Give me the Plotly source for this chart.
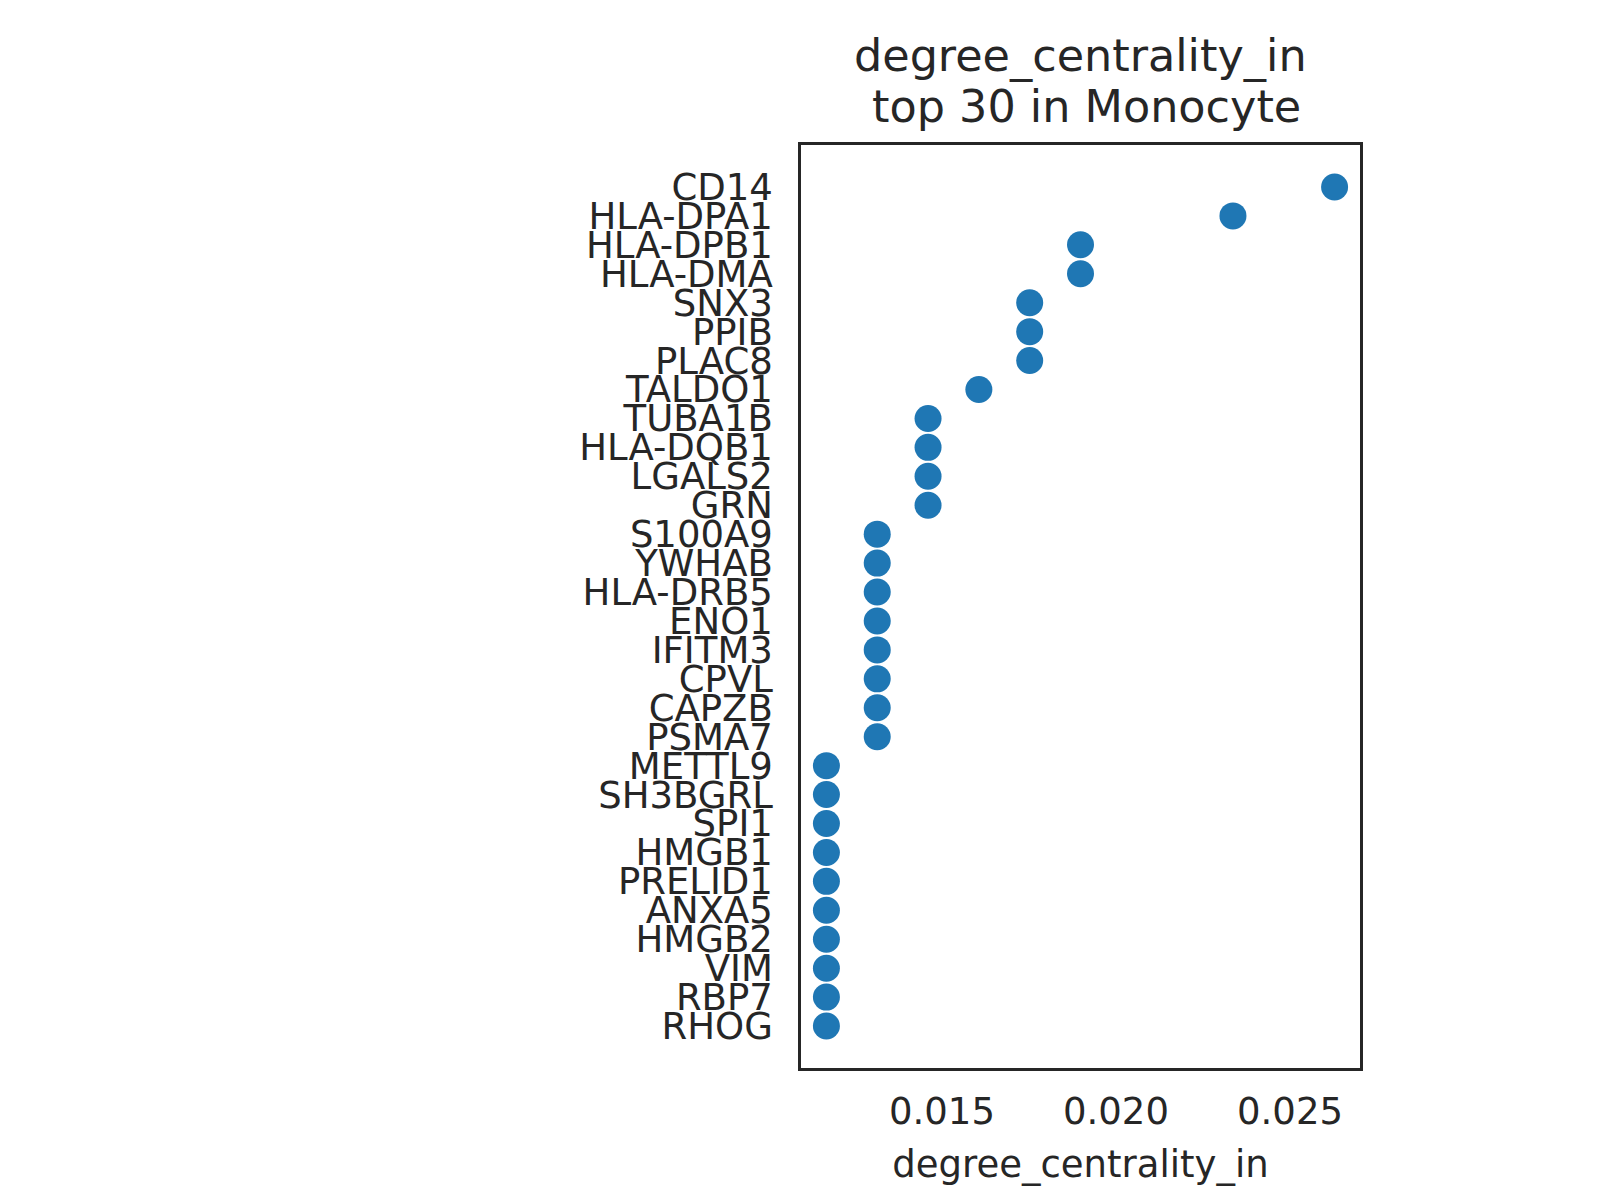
import plotly.graph_objects as go

genes = ["CD14", "HLA-DPA1", "HLA-DPB1", "HLA-DMA", "SNX3", "PPIB", "PLAC8", "TALDO1",
         "TUBA1B", "HLA-DQB1", "LGALS2", "GRN", "S100A9", "YWHAB", "HLA-DRB5", "ENO1",
         "IFITM3", "CPVL", "CAPZB", "PSMA7", "METTL9", "SH3BGRL", "SPI1", "HMGB1",
         "PRELID1", "ANXA5", "HMGB2", "VIM", "RBP7", "RHOG"]
values = [0.02628, 0.02336, 0.01898, 0.01898, 0.01752, 0.01752, 0.01752, 0.01606,
          0.01460, 0.01460, 0.01460, 0.01460, 0.01314, 0.01314, 0.01314, 0.01314,
          0.01314, 0.01314, 0.01314, 0.01314, 0.01168, 0.01168, 0.01168, 0.01168,
          0.01168, 0.01168, 0.01168, 0.01168, 0.01168, 0.01168]
x_ticks = [0.015, 0.020, 0.025]
x_tick_labels = ["0.015", "0.020", "0.025"]
title_lines = ["degree_centrality_in", "top 30 in Monocyte"]

TXT = "#262626"
FONT = "DejaVu Sans"

fig = go.Figure(go.Scatter(
    x=values, y=genes, mode="markers",
    marker=dict(color="#1f77b4", size=27, line=dict(width=0)),
))

fig.update_layout(
    width=1600, height=1200,
    margin=dict(l=801, r=240, t=145, b=132),
    paper_bgcolor="white", plot_bgcolor="white",
    showlegend=False,
    font=dict(family=FONT, color=TXT, size=37),
)
for txt, yy, xs in zip(title_lines, [1.0964, 1.0412], [0, 6]):
    fig.add_annotation(text=txt, xref="paper", yref="paper", x=0.5, y=yy,
                       xanchor="center", yanchor="middle", showarrow=False, xshift=xs,
                       font=dict(size=44.5, color=TXT, family=FONT))

fig.update_xaxes(
    range=[0.01095, 0.02701], tickmode="array", tickvals=x_ticks, ticktext=x_tick_labels,
    showgrid=False, zeroline=False, showline=True, mirror=True,
    linecolor=TXT, linewidth=2.5, ticks="", ticklabelstandoff=9,
    tickfont=dict(size=37, color=TXT, family=FONT),
    title=dict(text="degree_centrality_in", standoff=19,
               font=dict(size=37, color=TXT, family=FONT)),
)
fig.update_yaxes(
    categoryorder="array", categoryarray=genes, range=[30.45, -1.45],
    tickmode="array", tickvals=genes, ticktext=genes,
    showgrid=False, zeroline=False, showline=True, mirror=True,
    linecolor=TXT, linewidth=2.5, ticks="", ticklabelstandoff=18,
    tickfont=dict(size=37, color=TXT, family=FONT),
)

fig.write_html("out.html")
